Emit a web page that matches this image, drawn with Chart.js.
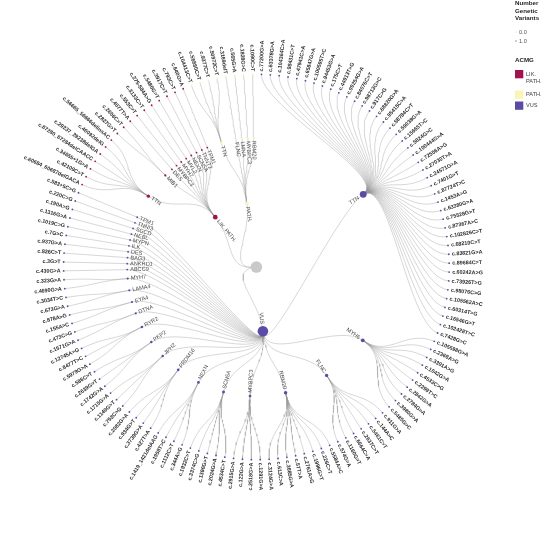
<!DOCTYPE html>
<html><head><meta charset="utf-8">
<script src="https://cdn.jsdelivr.net/npm/chart.js@4.4.1/dist/chart.umd.min.js"></script>
<style>html,body{margin:0;padding:0;background:#fff;}canvas{display:block;}</style>
</head><body>
<canvas id="c" width="550" height="536"></canvas>
<script>
// ---------------- DATA ----------------
const acmgClasses = ['VUS', 'LIK. PATH.', 'PATH.'];

const vusGenes = ['TTN','MYH6','FLNC','RBM20','MYBPC3','SCN5A','NEXN','PRDM16','JPH2','PKP2','RYR2',
  'DTNA','EYA4','LAMA4','MYH7','ABCC9','ANKRD1','BAG3','DES','ILK','MYPN','NEBL','SGCD','TNNI3','TPM1'];
const vusVariants = [
  ['c.77200G>A','c.63378G>A','c.104364C>A','c.98431C>T','c.47941C>A','c.65847G>A','c.100595T>C','c.94453G>A',
   'c.175C>T','c.44913T>G','c.99254G>A','c.84076C>T','c.98713G>C','c.917C>G','c.68820G>A','c.95415C>A',
   'c.58784C>T','c.59038G>A','c.15665T>C','c.5824G>C','c.100444G>A','c.72556A>G','c.27030T>A','c.24571G>A',
   'c.7401G>T','c.87724T>C','c.1453A>G','c.63380G>A','c.75528G>T','c.87367A>C','c.102826C>T','c.68210C>T',
   'c.83821G>A','c.89684C>T','c.60242A>G','c.73926T>G','c.98076C>G','c.105562A>C','c.60314T>G','c.16546G>T',
   'c.102428T>C','c.7428G>C'],
  ['c.105598G>A','c.2368A>G','c.3391A>G','c.1042G>A','c.4533C>G','c.2299T>C','c.2842G>A','c.2784G>A','c.3980G>A','c.5485G>C'],
  ['c.911G>A','c.144A>C','c.5461C>T','c.2637C>T','c.6664C>A','c.1160G>T','c.574G>A'],
  ['c.5584A>C','c.226C>T','c.1996G>T','c.2761A>G','c.57T>A','c.3685G>A','c.613C>A','c.3124G>A'],
  ['c.1291G>A','c.2518G>A','c.122G>A','c.2915G>A'],
  ['c.4534C>T','c.2024G>A','c.1390G>T','c.3374C>G','c.1932C>T'],
  ['c.344A>G','c.1112C>T','c.1958T>C','c.1419_1421delAAG'],
  ['c.427T>A','c.3739G>A','c.934G>T','c.2082G>A'],
  ['c.753C>G','c.1149G>T','c.1715G>A'],
  ['c.1742G>A','c.2639G>T','c.586C>T'],
  ['c.5979G>A','c.8477T>C','c.12745A>G'],
  ['c.1571G>A','c.473C>G'],
  ['c.155A>C','c.878A>G'],
  ['c.673G>A','c.3034T>C'],
  ['c.4690G>A','c.323G>A'],
  ['c.430G>A'],['c.3G>T'],['c.826C>T'],['c.937G>A'],['c.7G>C'],['c.1019C>G'],['c.1316G>A'],['c.190A>G'],['c.220C>G'],['c.583+5C>G']
];

const likGenes = ['TTN','MIB1','DES','MYBPC3','MYH7','MYL2','NEXN','SCN5A','TNNT2','TPM1'];
const likVariants = [
  ['c.60684_60687delGACA','c.42109C>T','c.34655+1G>A','c.87280_87284delCAACC','c.29237_29238delGA','c.46092delG','c.56665_56666delinsAC'],
  ['c.2827G>T','c.2606C>T'],['c.4077T>A'],['c.553C>T'],['c.3133C>T'],['c.275-584A>G'],['c.5480G>T'],['c.3917C>T'],['c.793C>T'],['c.640G>A']
];

const pathGenes = ['TTN','FLNC','LMNA','MYBPC3','RBM20'];
const pathVariants = [
  ['c.104413C>T','c.56880C>T','c.9377C>T','c.50972C>T'],['c.3169delT'],['c.565G>A'],['c.1828G>C'],['c.1090C>T']
];

const sizeLegendTitle = ['Number','Genetic','Variants'];
const sizeLegendLabels = ['0.0','1.0'];
const colorLegendTitle = 'ACMG';
const colorLegendLabels = [['LIK.','PATH.'],['PATH.'],['VUS']];

// ---------------- STYLE / LAYOUT ----------------
const classColor = {'VUS':'#5b4ba6','LIK. PATH.':'#a3124c','PATH.':'#f9f5b4'};
const rootColor = '#c9c9c9';
const edgeColor = 'rgba(150,150,150,0.55)';
const RADII = [0, 66, 132, 197];
const THETA0 = 1.5;
const LEAF_FONT = 'bold 5.4px "Liberation Sans", Arial, sans-serif';
const NODE_FONT = '5.6px "Liberation Sans", Arial, sans-serif';

// ---------------- BUILD TREE ----------------
const groups = [
  {name: acmgClasses[0], genes: vusGenes, variants: vusVariants},
  {name: acmgClasses[1], genes: likGenes, variants: likVariants},
  {name: acmgClasses[2], genes: pathGenes, variants: pathVariants}
];
let leafCount = 0;
const root = {label:'', depth:0, cls:null, children:[]};
groups.forEach(g => {
  const cn = {label:g.name, depth:1, cls:g.name, children:[]};
  g.genes.forEach((gene, gi) => {
    const gn = {label:gene, depth:2, cls:g.name, children:[]};
    g.variants[gi].forEach(v => gn.children.push({label:v, depth:3, cls:g.name, pos:leafCount++, children:[]}));
    cn.children.push(gn);
  });
  root.children.push(cn);
});
const N = leafCount;
const STEP = 360 / N;
function layout(n) {
  if (n.children.length) {
    n.children.forEach(layout);
    n.pos = (n.children[0].pos + n.children[n.children.length-1].pos) / 2;
    n.count = n.children.reduce((s,c)=>s+c.count,0);
  } else n.count = 1;
  n.theta = THETA0 + n.pos * STEP;
  n.r = RADII[n.depth];
  const t = n.theta * Math.PI / 180;
  n.x = n.r * Math.sin(t);
  n.y = n.r * Math.cos(t);
  n.size = 0.45 + 0.46 * Math.sqrt(n.count);
}
layout(root);

const allNodes = [];
const edgeList = [];
(function walk(n){ allNodes.push(n); n.children.forEach(c=>{edgeList.push([n,c]); walk(c);}); })(root);

function polar(theta, r) { const t = theta*Math.PI/180; return [r*Math.sin(t), r*Math.cos(t)]; }
function edgePoints(p, c) {
  const rm = (p.r + c.r) / 2;
  const P0 = [p.x, p.y], P1 = polar(p.theta, rm), P2 = polar(c.theta, rm), P3 = [c.x, c.y];
  const pts = [];
  for (let i = 0; i <= 24; i++) {
    const t = i/24, a = (1-t)*(1-t)*(1-t), b = 3*(1-t)*(1-t)*t, d = 3*(1-t)*t*t, e = t*t*t;
    pts.push({x: a*P0[0]+b*P1[0]+d*P2[0]+e*P3[0], y: a*P0[1]+b*P1[1]+d*P2[1]+e*P3[1]});
  }
  return pts;
}

const datasets = [];
datasets.push({
  data: allNodes.map(n => ({x:n.x, y:n.y})),
  pointRadius: allNodes.map(n => n.size),
  pointBackgroundColor: allNodes.map(n => n.cls ? classColor[n.cls] : rootColor),
  pointBorderWidth: 0,
  showLine: false, order: 0, clip: false
});
edgeList.forEach(([p,c]) => datasets.push({
  data: edgePoints(p,c), showLine: true, pointRadius: 0, borderColor: edgeColor,
  borderWidth: 0.7, tension: 0, fill: false, order: 1, clip: false
}));

// ---------------- LABELS ----------------
const labelPlugin = {
  id: 'treeLabels',
  afterDatasetsDraw(chart) {
    const ctx = chart.ctx, xs = chart.scales.x, ys = chart.scales.y;
    ctx.save();
    allNodes.forEach(n => {
      if (!n.label) return;
      const px = xs.getPixelForValue(n.x), py = ys.getPixelForValue(n.y);
      const th = ((n.theta % 360) + 360) % 360;
      const t = th*Math.PI/180, ux = Math.sin(t), uy = -Math.cos(t);
      const right = th < 180;
      const leaf = n.depth === 3;
      const off = leaf ? 3 : n.size + 2;
      const sg = leaf ? 1 : -1;
      ctx.save();
      ctx.translate(px + ux*off*sg, py + uy*off*sg);
      ctx.rotate(((right ? th - 90 : th - 270)) * Math.PI / 180);
      ctx.textAlign = right ? (leaf ? 'left' : 'right') : (leaf ? 'right' : 'left');
      ctx.textBaseline = 'middle';
      ctx.font = leaf ? LEAF_FONT : NODE_FONT;
      ctx.fillStyle = leaf ? '#2b2b2b' : '#4a4a4a';
      ctx.fillText(n.label, 0, 0);
      ctx.restore();
    });
    ctx.restore();
  }
};

const legendPlugin = {
  id: 'sideLegend',
  afterDraw(chart) {
    const ctx = chart.ctx;
    ctx.save();
    ctx.textBaseline = 'middle'; ctx.textAlign = 'left';
    ctx.fillStyle = '#1e1e1e';
    ctx.font = 'bold 6.2px "Liberation Sans", Arial, sans-serif';
    sizeLegendTitle.forEach((s,i) => ctx.fillText(s, 515, 3.5 + i*7.5));
    ctx.font = '5.6px "Liberation Sans", Arial, sans-serif';
    ctx.fillStyle = '#555';
    sizeLegendLabels.forEach((s,i) => {
      ctx.fillText(s, 519, 32 + i*9);
      ctx.beginPath(); ctx.arc(516, 32 + i*9, i === 0 ? 0.3 : 0.7, 0, Math.PI*2); ctx.fillStyle = '#777'; ctx.fill(); ctx.fillStyle = '#555';
    });
    ctx.fillStyle = '#1e1e1e';
    ctx.font = 'bold 6.2px "Liberation Sans", Arial, sans-serif';
    ctx.fillText(colorLegendTitle, 515, 60);
    const order = [acmgClasses[1], acmgClasses[2], acmgClasses[0]];
    const tops = [70, 90.5, 101.5];
    ctx.font = '5.6px "Liberation Sans", Arial, sans-serif';
    order.forEach((c,i) => {
      ctx.fillStyle = classColor[c];
      ctx.fillRect(515, tops[i], 8.3, 8.3);
      ctx.fillStyle = '#444';
      const lines = colorLegendLabels[i];
      lines.forEach((l,j) => ctx.fillText(l, 526, tops[i] + 4.2 + j*7 - (lines.length-1)*0 ));
    });
    ctx.restore();
  }
};

new Chart(document.getElementById('c'), {
  type: 'scatter',
  data: { datasets },
  options: {
    responsive: false, animation: false, events: [],
    layout: { padding: 0 },
    plugins: { legend: { display: false }, tooltip: { enabled: false } },
    scales: {
      x: { type: 'linear', display: false, min: -256, max: 294 },
      y: { type: 'linear', display: false, min: -269, max: 267 }
    }
  },
  plugins: [labelPlugin, legendPlugin]
});
</script>
</body></html>
